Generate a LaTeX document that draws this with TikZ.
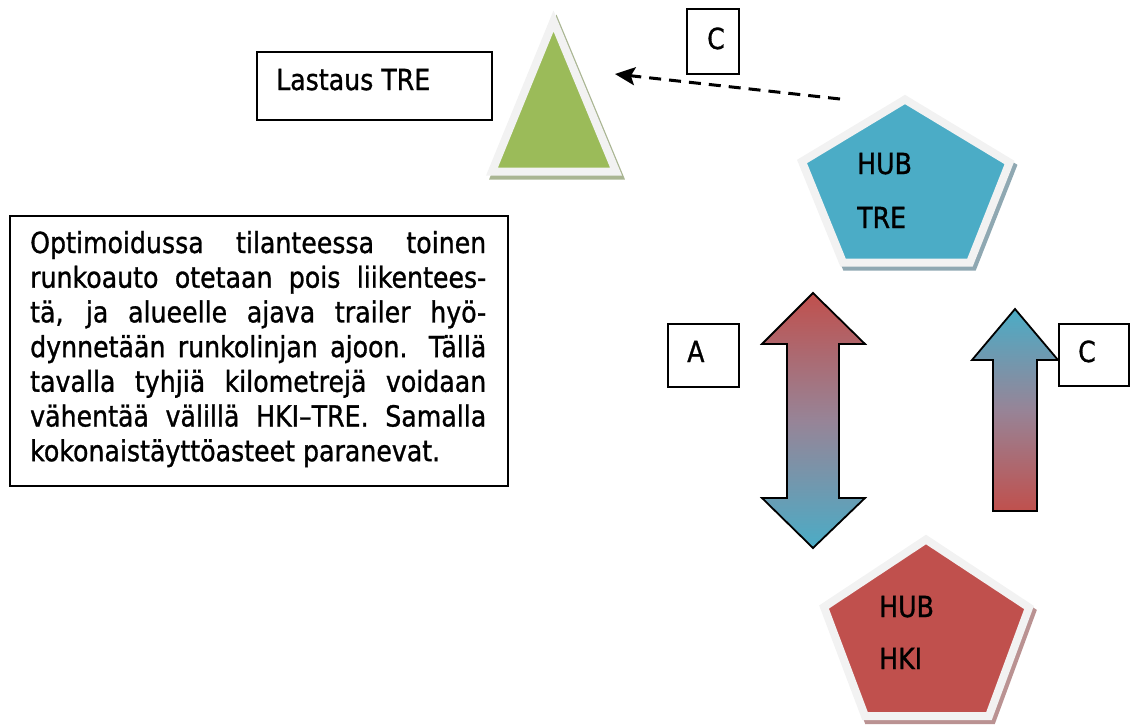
\documentclass[tikz,border=0pt]{standalone}
\usepackage{fontspec}
\setmainfont{DejaVu Sans}[FakeStretch=0.87, FakeBold=1]
\usetikzlibrary{arrows.meta}

\definecolor{hubred}{HTML}{C0504D}
\definecolor{hubblue}{HTML}{4BACC6}
\definecolor{loadgreen}{HTML}{9BBB59}
\definecolor{bandgray}{HTML}{F2F2F2}
\definecolor{shadowgreen}{HTML}{A9B592}
\definecolor{shadowblue}{HTML}{8FA8B2}
\definecolor{shadowred}{HTML}{BA9292}
\definecolor{midmix}{HTML}{978497}

\tikzset{
  framebox/.style={draw=black, line width=1.8pt, fill=white, inner sep=0pt, anchor=north west},
  txt/.style={inner sep=0pt, anchor=base west, font=\fontsize{29}{35}\selectfont},
  band/.style={draw=bandgray, line width=8pt, line join=miter},
  shadowband/.style={line width=8pt, line join=miter},
  bigarrow/.style={draw=black, line width=1.8pt, line join=miter},
  flow/.style={draw=black, line width=3pt, dash pattern=on 12pt off 8pt,
    -{Stealth[length=20pt, width=18pt, inset=4pt]}},
}

\begin{document}
\begin{tikzpicture}[x=1pt, y=-1pt]
  \useasboundingbox (0,0) rectangle (1130,726);

  % --- loading point: triangle with light rim and drop shadow
  \path[fill=shadowgreen, draw=shadowgreen, shadowband, shift={(3,4)}]
    (553.5,21) -- (616,171.5) -- (492,171.5) -- cycle;
  \path[fill=loadgreen, band]
    (553.5,21) -- (616,171.5) -- (492,171.5) -- cycle;

  % --- hub Tampere: pentagon
  \path[fill=shadowblue, draw=shadowblue, shadowband, shift={(3,4)}]
    (905,99.5) -- (1009.5,162.5) -- (970,262.5) -- (843,262.5) -- (802,161.5) -- cycle;
  \path[fill=hubblue, band]
    (905,99.5) -- (1009.5,162.5) -- (970,262.5) -- (843,262.5) -- (802,161.5) -- cycle;
  \node[txt] (treHub) at (857,174) {HUB};
  \node[txt] (treName) at (857,228) {TRE};

  % --- hub Helsinki: pentagon
  \path[fill=shadowred, draw=shadowred, shadowband, shift={(3,4)}]
    (926,539.5) -- (1029,607.5) -- (989,716) -- (865,716) -- (824,607) -- cycle;
  \path[fill=hubred, band]
    (926,539.5) -- (1029,607.5) -- (989,716) -- (865,716) -- (824,607) -- cycle;
  \node[txt] (hkiHub) at (879,617) {HUB};
  \node[txt] (hkiName) at (879,669) {HKI};

  % --- two-way trunk line arrow
  \path[bigarrow, top color=hubred, bottom color=hubblue, middle color=midmix]
    (813,293) -- (865,344) -- (839,344) -- (839,498) -- (865,498) -- (813,548)
    -- (762,498) -- (787,498) -- (787,344) -- (762,344) -- cycle;

  % --- one-way arrow up
  \path[bigarrow, top color=hubblue, bottom color=hubred, middle color=midmix]
    (1015,309) -- (1058,360) -- (1037,360) -- (1037,511) -- (993,511)
    -- (993,360) -- (972,360) -- cycle;

  % --- labels in frames
  \node[framebox, minimum width=235pt, minimum height=68pt] (lastausBox) at (256,51) {};
  \node[txt] (lastaus) at (276,90) {Lastaus TRE};

  \node[framebox, minimum width=71pt, minimum height=63pt] (aBox) at (667,323) {};
  \node[txt] (aLabel) at (687,362) {A};

  \node[framebox, minimum width=70pt, minimum height=62pt] (cBoxRight) at (1058,323) {};
  \node[txt] (cLabelRight) at (1078,362) {C};

  \node[framebox, minimum width=52pt, minimum height=65pt] (cBoxTop) at (686,8) {};
  \node[txt] (cLabelTop) at (707,49) {C};

  % --- explanatory text
  \node[framebox, minimum width=498pt, minimum height=270pt] (paraBox) at (9,215) {};
  \node[txt] (para) at (30,253) {\vtop{%
      \baselineskip=34.7pt
      \spaceskip=.318em plus 1fil minus .05em
      \hbox to 456pt{Optimoidussa tilanteessa toinen}
      \hbox to 456pt{runkoauto otetaan pois liikentees-}
      \hbox to 456pt{tä, ja alueelle ajava trailer hyö-}
      \hbox to 456pt{dynnetään runkolinjan ajoon. Tällä}
      \hbox to 456pt{tavalla tyhjiä kilometrejä voidaan}
      \hbox to 456pt{vähentää välillä HKI–TRE. Samalla}
      \spaceskip=0pt
      \hbox{kokonaistäyttöasteet paranevat.}}};

  % --- dashed flow from hub to loading point
  \coordinate (flowFrom) at (840,99);
  \coordinate (flowTo) at (615,74);
  \draw[flow] (flowFrom) -- (flowTo);
\end{tikzpicture}
\end{document}
